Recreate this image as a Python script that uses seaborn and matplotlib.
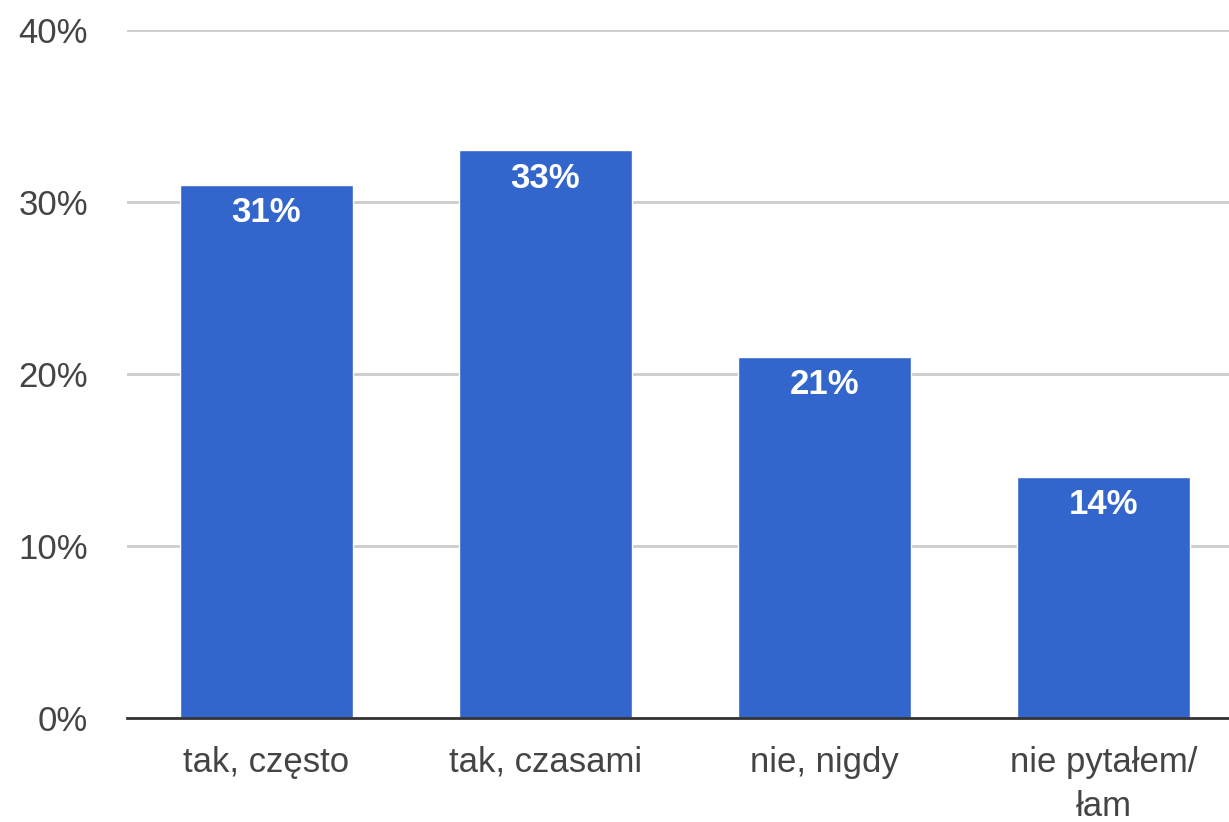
import matplotlib
matplotlib.use("Agg")
import matplotlib.pyplot as plt
import seaborn as sns
import pandas as pd

categories = ["tak, często", "tak, czasami", "nie, nigdy", "nie pytałem/\nłam"]
values = [31, 33, 21, 14]
yticks = [0, 10, 20, 30, 40]
ytick_labels = ["0%", "10%", "20%", "30%", "40%"]

sns.set_theme(style="white")
plt.rcParams["font.family"] = ["Liberation Sans", "DejaVu Sans"]

df = pd.DataFrame({"cat": categories, "val": values})

fig = plt.figure(figsize=(12.29, 8.22), dpi=100)
ax = fig.add_axes([127 / 1229, 104 / 822, 1102 / 1229, 688 / 822])
sns.barplot(data=df, x="cat", y="val", color="#3366CC", saturation=1, width=0.617, ax=ax)

ax.set_ylim(0, 40)
ax.set_xlim(-0.5, 3.45)
ax.set_yticks(yticks)
ax.set_yticklabels(ytick_labels)
ax.grid(axis="y", color="#cccccc", linewidth=2)
ax.set_axisbelow(True)
for s in ["top", "right", "left"]:
    ax.spines[s].set_visible(False)
ax.spines["bottom"].set_color("#333333")
ax.spines["bottom"].set_linewidth(2)
ax.tick_params(axis="both", length=0, labelsize=25, labelcolor="#444444")
ax.tick_params(axis="y", pad=28)
ax.tick_params(axis="x", pad=20)
for t in ax.get_xticklabels():
    t.set_linespacing(1.45)
ax.set_xlabel("")
ax.set_ylabel("")

for i, v in enumerate(values):
    ax.annotate(f"{v}%", (i, v), xytext=(0, -8), textcoords="offset points",
                ha="center", va="top", color="white", fontsize=25, fontweight="bold")

fig.savefig("out.png", dpi=100)
